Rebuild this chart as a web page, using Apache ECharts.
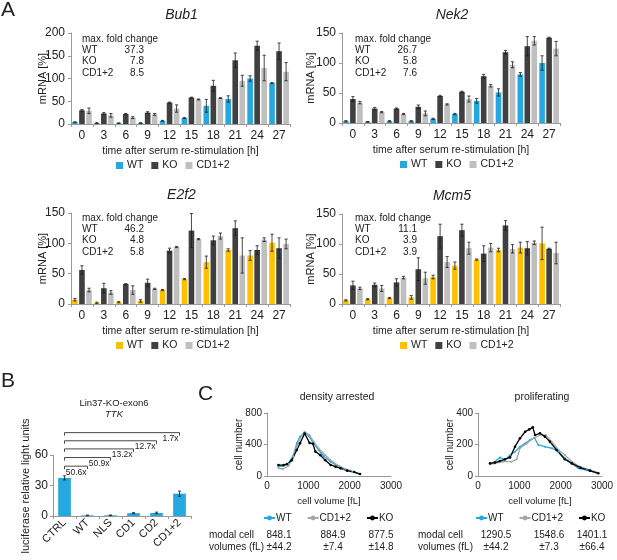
<!DOCTYPE html>
<html>
<head>
<meta charset="utf-8">
<script src="https://cdn.jsdelivr.net/npm/echarts@6/dist/echarts.min.js"></script>
<style>
html, body { margin: 0; padding: 0; background: #fff; overflow: hidden; }
#wrap { position: relative; width: 617px; height: 560px; }
.layer { position: absolute; left: 0; top: 0; width: 617px; height: 560px; }
</style>
</head>
<body>
<div id="wrap">
  <div class="layer" id="bub1"></div>
  <div class="layer" id="nek2"></div>
  <div class="layer" id="e2f2"></div>
  <div class="layer" id="mcm5"></div>
  <div class="layer" id="ttk"></div>
  <div class="layer" id="arrested"></div>
  <div class="layer" id="prolif"></div>
</div>
<script>
// ---- data ----
var hours = ["0", "3", "6", "9", "12", "15", "18", "21", "24", "27"];
var groups = ["WT", "KO", "CD1+2"];

var bub1WT = [4, 2, 2, 2, 7, 13, 40, 55, 100, 90];
var bub1KO = [30, 23, 22, 25, 47, 58, 84, 140, 172, 160];
var bub1CD = [29, 19, 14, 21, 34, 54, 57, 95, 123, 115];
var bub1WTErr = [1, 1, 0.5, 1, 1, 1, 14, 7, 6, 1];
var bub1KOErr = [2, 2, 1, 2, 1, 1, 12, 16, 10, 18];
var bub1CDErr = [6, 4, 2, 2, 8, 1, 1, 12, 28, 20];
var bub1Fold = ["37.3", "7.8", "8.5"];

var nek2WT = [3, 2, 3, 3, 7, 15, 37, 51, 81, 100];
var nek2KO = [40, 24, 24, 27, 45, 52, 78, 118, 128, 142];
var nek2CD = [34, 18, 15, 16, 31, 40, 62, 97, 137, 124];
var nek2WTErr = [1, 0.5, 1, 1, 1, 1, 4, 6, 3, 12];
var nek2KOErr = [4, 2, 1, 3, 1, 1, 3, 3, 16, 1];
var nek2CDErr = [2, 1, 1, 4, 1, 5, 2, 5, 7, 12];
var nek2Fold = ["26.7", "5.8", "7.6"];

var e2f2WT = [7, 2, 3, 5, 23, 41, 69, 89, 80, 101];
var e2f2KO = [56, 26, 33, 35, 88, 121, 105, 125, 89, 92];
var e2f2CD = [23, 19, 23, 25, 94, 107, 112, 80, 106, 99];
var e2f2WTErr = [2, 1, 1, 2, 1, 1, 10, 2, 8, 14];
var e2f2KOErr = [7, 8, 0.5, 6, 4, 28, 7, 12, 7, 17];
var e2f2CDErr = [3, 3, 7, 1, 1, 1, 5, 29, 3, 8];
var e2f2Fold = ["46.2", "4.8", "5.8"];

var mcm5WT = [6, 8, 10, 11, 45, 64, 74, 90, 94, 101];
var mcm5KO = [31, 32, 36, 58, 113, 123, 84, 131, 93, 92];
var mcm5CD = [26, 26, 44, 43, 70, 93, 94, 92, 102, 85];
var mcm5WTErr = [1, 1, 1, 3, 3, 6, 1, 3, 9, 27];
var mcm5KOErr = [7, 3, 6, 19, 20, 10, 13, 8, 11, 1];
var mcm5CDErr = [2, 5, 2, 10, 9, 10, 7, 7, 3, 18];
var mcm5Fold = ["11.1", "3.9", "3.9"];

var ttkCats = ["CTRL", "WT", "NLS", "CD1", "CD2", "CD1+2"];
var ttkValues = [37.5, 0.6, 0.7, 2.8, 3.0, 22];
var ttkErr = [2, 0.3, 0.3, 0.5, 0.8, 2.5];
var ttkBracketTo = [1, 2, 3, 4, 5];
var ttkBracketLevel = [49, 57.5, 66, 74, 82];
var ttkBracketText = ["50.6x", "50.9x", "13.2x", "12.7x", "1.7x"];

var daWT = [[276, 118], [400, 127], [520, 160], [640, 266], [720, 415], [800, 500], [910, 553], [1010, 507], [1130, 414], [1250, 330], [1370, 254], [1540, 182], [1700, 127], [1860, 89], [2065, 55], [2250, 25]];
var daCD = [[276, 97], [380, 89], [520, 127], [640, 245], [720, 372], [800, 478], [910, 562], [1030, 520], [1130, 435], [1250, 350], [1410, 266], [1580, 182], [1740, 131], [1900, 89], [2090, 55], [2250, 25]];
var daKO = [[276, 139], [400, 139], [480, 150], [600, 200], [720, 330], [800, 415], [910, 540], [1030, 420], [1110, 410], [1170, 310], [1290, 265], [1410, 200], [1540, 140], [1660, 118], [1780, 97], [1940, 68], [2110, 50], [2250, 25]];
var daModal = ["848.1", "884.9", "877.5"];
var daModalErr = ["\u00b144.2", "\u00b17.4", "\u00b114.8"];

var prWT = [[290, 76], [410, 91], [530, 118], [650, 102], [775, 133], [895, 154], [1015, 186], [1140, 207], [1260, 229], [1365, 243], [1460, 197], [1620, 186], [1790, 176], [1950, 154], [2100, 112], [2270, 80], [2430, 49], [2630, 38], [2910, 17]];
var prCD = [[290, 74], [410, 80], [610, 91], [810, 91], [935, 106], [1015, 176], [1180, 207], [1300, 233], [1380, 243], [1500, 260], [1645, 260], [1780, 218], [1950, 165], [2100, 133], [2270, 91], [2470, 59], [2710, 38], [2910, 21]];
var prKO = [[290, 80], [410, 85], [530, 95], [650, 106], [775, 118], [895, 186], [1015, 239], [1140, 281], [1240, 296], [1325, 309], [1380, 260], [1500, 271], [1620, 250], [1740, 218], [1900, 165], [2100, 106], [2270, 80], [2470, 53], [2710, 34], [2910, 17]];
var prModal = ["1290.5", "1548.6", "1401.1"];
var prModalErr = ["\u00b144.2", "\u00b17.3", "\u00b166.4"];

// ---- styles ----
var FONT = "Liberation Sans, Arial, sans-serif";
var TXT = "#222";
var AXIS = "#9a9a9a";
var BLUE = "#25a7e0";
var YELLOW = "#ffc000";
var DARK = "#404040";
var LIGHT = "#bfbfbf";
var CAT_GAP = 0.1, BAR_GAP = 0.25;

function txt(x, y, s, size, extra) {
    var st = { text: s, fontSize: size, fontFamily: FONT, fill: TXT, align: "left", verticalAlign: "middle" };
    for (var k in extra) st[k] = extra[k];
    return { type: "text", x: x, y: y, style: st, silent: true };
}

function errorSeries(data, idx, n, catGap, barGap) {
    return {
        type: "custom",
        data: data,
        z: 5,
        clip: false,
        silent: true,
        renderItem: function(params, api) {
            var i = api.value(0), v = api.value(1), e = api.value(2);
            if (!e) return null;
            var band = api.size([1, 0])[0];
            var inner = band * (1 - catGap);
            var bw = inner / (n + (n - 1) * barGap);
            var x = api.coord([i, v])[0] - inner / 2 + idx * bw * (1 + barGap) + bw / 2;
            var y1 = api.coord([i, v + e])[1];
            var y2 = api.coord([i, Math.max(v - e, 0)])[1];
            var st = { stroke: "#1a1a1a", lineWidth: 0.8 };
            return {
                type: "group",
                children: [
                    { type: "line", shape: { x1: x, y1: y1, x2: x, y2: y2 }, style: st },
                    { type: "line", shape: { x1: x - 1.6, y1: y1, x2: x + 1.6, y2: y1 }, style: st },
                    { type: "line", shape: { x1: x - 1.6, y1: y2, x2: x + 1.6, y2: y2 }, style: st }
                ]
            };
        }
    };
}

function barPanel(id, o) {
    var c = echarts.init(document.getElementById(id));
    var colors = [o.wtColor, DARK, LIGHT];
    var series = [];
    o.values.forEach(function(vals, k) {
        series.push({
            name: groups[k], type: "bar", data: vals,
            barGap: "25%", barCategoryGap: "10%",
            itemStyle: { color: colors[k] }
        });
    });
    o.values.forEach(function(vals, k) {
        series.push(errorSeries(vals.map(function(v, i) { return [i, v, o.errors[k][i]]; }), k, 3, CAT_GAP, BAR_GAP));
    });
    var g = o.grid;
    var a = o.note;
    var graphics = [
        txt(g.left + g.width / 2 + 1, g.top - 18, o.title, 14, { align: "center", fontStyle: "italic" }),
        txt(a.x, a.y, "max. fold change", 10)
    ];
    groups.forEach(function(n, k) {
        graphics.push(txt(a.x, a.y + 11.3 * (k + 1), n, 10));
        graphics.push(txt(a.x + 62, a.y + 11.3 * (k + 1), o.fold[k], 10, { align: "right" }));
    });
    if (o.letter) graphics.push(txt(1, 10, o.letter, 21));
    c.setOption({
        animation: false,
        grid: { left: g.left, top: g.top, width: g.width, height: g.height },
        xAxis: {
            type: "category", data: hours,
            name: "time after serum re-stimulation [h]", nameLocation: "middle", nameGap: 22,
            nameMoveOverlap: false,
            nameTextStyle: { fontSize: 10.5, color: TXT, fontFamily: FONT },
            axisLine: { lineStyle: { color: AXIS } },
            axisTick: { show: true, length: 3, lineStyle: { color: AXIS } },
            axisLabel: { fontSize: 12, color: TXT, fontFamily: FONT, margin: 6 }
        },
        yAxis: {
            type: "value", min: 0, max: o.yMax, interval: 50,
            name: "mRNA [%]", nameLocation: "middle", nameGap: o.nameGap,
            nameMoveOverlap: false,
            nameTextStyle: { fontSize: 11, color: TXT, fontFamily: FONT },
            axisLine: { show: true, lineStyle: { color: AXIS } },
            axisTick: { show: true, length: 3, lineStyle: { color: AXIS } },
            splitLine: { show: false },
            axisLabel: { fontSize: 12, color: TXT, fontFamily: FONT, margin: 6 }
        },
        legend: {
            data: groups, left: o.legendLeft, top: g.top + g.height + 36, padding: 0,
            icon: "rect", itemWidth: 7, itemHeight: 7, itemGap: 8,
            textStyle: { fontSize: 10.5, color: TXT, fontFamily: FONT, padding: [0, 0, 0, -1] }
        },
        graphic: graphics,
        series: series
    });
}

barPanel("bub1", {
    letter: "A", title: "Bub1", yMax: 200, wtColor: BLUE, nameGap: 23,
    grid: { left: 71, top: 33, width: 219, height: 91 },
    note: { x: 82, y: 39 }, fold: bub1Fold, legendLeft: 116,
    values: [bub1WT, bub1KO, bub1CD], errors: [bub1WTErr, bub1KOErr, bub1CDErr]
});
barPanel("nek2", {
    title: "Nek2", yMax: 150, wtColor: BLUE, nameGap: 26,
    grid: { left: 342, top: 33, width: 218, height: 90 },
    note: { x: 355, y: 39 }, fold: nek2Fold, legendLeft: 400,
    values: [nek2WT, nek2KO, nek2CD], errors: [nek2WTErr, nek2KOErr, nek2CDErr]
});
barPanel("e2f2", {
    title: "E2f2", yMax: 150, wtColor: YELLOW, nameGap: 23,
    grid: { left: 71, top: 213, width: 219, height: 91 },
    note: { x: 82, y: 218 }, fold: e2f2Fold, legendLeft: 116,
    values: [e2f2WT, e2f2KO, e2f2CD], errors: [e2f2WTErr, e2f2KOErr, e2f2CDErr]
});
barPanel("mcm5", {
    title: "Mcm5", yMax: 150, wtColor: YELLOW, nameGap: 26,
    grid: { left: 342, top: 214, width: 218, height: 90 },
    note: { x: 355, y: 218 }, fold: mcm5Fold, legendLeft: 400,
    values: [mcm5WT, mcm5KO, mcm5CD], errors: [mcm5WTErr, mcm5KOErr, mcm5CDErr]
});

// ---- panel B ----
(function() {
    var c = echarts.init(document.getElementById("ttk"));
    var brackets = ttkBracketTo.map(function(t, i) { return [t, ttkBracketLevel[i], i]; });
    var yName = txt(26, 486, "luciferase relative light units", 11, { align: "center" });
    yName.rotation = Math.PI / 2;
    c.setOption({
        animation: false,
        grid: { left: 53, top: 455, width: 138, height: 61 },
        xAxis: {
            type: "category", data: ttkCats,
            axisLine: { lineStyle: { color: AXIS } },
            axisTick: { show: true, length: 3, lineStyle: { color: AXIS } },
            axisLabel: { fontSize: 11, color: TXT, fontFamily: FONT, rotate: 45, margin: 5 }
        },
        yAxis: {
            type: "value", min: 0, max: 60, interval: 30,
            axisLine: { show: true, lineStyle: { color: AXIS } },
            axisTick: { show: true, length: 3, lineStyle: { color: AXIS } },
            splitLine: { show: false },
            axisLabel: { fontSize: 12, color: TXT, fontFamily: FONT, margin: 5 }
        },
        graphic: [
            txt(1, 381, "B", 21),
            txt(114, 403, "Lin37-KO-exon6", 9.5, { align: "center" }),
            txt(114, 414, "TTK", 9.5, { align: "center", fontStyle: "italic" }),
            yName
        ],
        series: [
            {
                type: "bar", data: ttkValues, barCategoryGap: "45%",
                itemStyle: { color: BLUE }
            },
            errorSeries(ttkValues.map(function(v, i) { return [i, v, ttkErr[i]]; }), 0, 1, 0.45, 0),
            {
                type: "custom", data: brackets, clip: false, silent: true,
                renderItem: function(params, api) {
                    var to = api.value(0), lvl = api.value(1);
                    var p0 = api.coord([0, lvl]), p1 = api.coord([to, lvl]);
                    var y = p0[1];
                    return {
                        type: "group",
                        children: [
                            {
                                type: "polyline",
                                shape: { points: [[p0[0], y + 3], [p0[0], y], [p1[0], y], [p1[0], y + 3]] },
                                style: { stroke: "#333", lineWidth: 0.9, fill: null }
                            },
                            {
                                type: "text", x: p1[0] - 1, y: y + 1.5,
                                style: {
                                    text: ttkBracketText[api.value(2)], fontSize: 8.5, fontFamily: FONT,
                                    fill: TXT, align: "right", verticalAlign: "top"
                                }
                            }
                        ]
                    };
                }
            }
        ]
    });
})();

// ---- panel C ----
function linePanel(id, o) {
    var c = echarts.init(document.getElementById(id));
    var names = ["WT", "CD1+2", "KO"];
    var colors = [BLUE, "#a6a6a6", "#000"];
    var sets = [o.wt, o.cd, o.ko];
    var g = o.grid;
    var graphics = [
        txt(o.titleX, 397, o.title, 10.5, { align: "center" }),
        txt(o.textX, 535, "modal cell", 10),
        txt(o.textX, 547, "volumes (fL)", 10)
    ];
    o.modal.forEach(function(m, k) {
        graphics.push(txt(o.valueX[k], 535, m, 10, { align: "center" }));
        graphics.push(txt(o.valueX[k], 547, o.modalErr[k], 10, { align: "center" }));
    });
    if (o.letter) graphics.push(txt(198, 394, o.letter, 21));
    c.setOption({
        animation: false,
        grid: { left: g.left, top: g.top, width: g.width, height: g.height },
        xAxis: {
            type: "value", min: 0, max: 3000, interval: 1000,
            name: "cell volume [fL]", nameLocation: "middle", nameGap: 20,
            nameMoveOverlap: false,
            nameTextStyle: { fontSize: 9.5, color: TXT, fontFamily: FONT },
            axisLine: { lineStyle: { color: AXIS } },
            axisTick: { show: false },
            splitLine: { show: false },
            axisLabel: { fontSize: 10, color: TXT, fontFamily: FONT, margin: 5,
                formatter: function(v) { return String(v); } }
        },
        yAxis: {
            type: "value", min: 0, max: o.yMax, interval: o.yMax / 2,
            name: "cell number", nameLocation: "middle", nameGap: 23,
            nameMoveOverlap: false,
            nameTextStyle: { fontSize: 10, color: TXT, fontFamily: FONT },
            axisLine: { show: true, lineStyle: { color: AXIS } },
            axisTick: { show: true, length: 3, lineStyle: { color: AXIS } },
            splitLine: { show: false },
            axisLabel: { fontSize: 10, color: TXT, fontFamily: FONT, margin: 5 }
        },
        legend: {
            data: names, left: o.legendLeft, top: 513, padding: 0,
            itemWidth: 11, itemHeight: 6, itemGap: 15,
            textStyle: { fontSize: 10, color: TXT, fontFamily: FONT, padding: [0, 0, 0, -4] }
        },
        graphic: graphics,
        series: sets.map(function(d, k) {
            return {
                name: names[k], type: "line", data: d,
                symbol: "circle", symbolSize: k === 2 ? 2.6 : 2,
                lineStyle: { width: 1.3, color: colors[k] },
                itemStyle: { color: colors[k] }
            };
        })
    });
}

linePanel("arrested", {
    letter: "C", title: "density arrested", titleX: 337, yMax: 800,
    grid: { left: 267, top: 413, width: 124, height: 63 },
    wt: daWT, cd: daCD, ko: daKO, legendLeft: 263,
    textX: 209, valueX: [279, 333, 381], modal: daModal, modalErr: daModalErr
});
linePanel("prolif", {
    title: "proliferating", titleX: 542, yMax: 400,
    grid: { left: 478, top: 413, width: 124, height: 63 },
    wt: prWT, cd: prCD, ko: prKO, legendLeft: 475,
    textX: 418, valueX: [496, 549, 592], modal: prModal, modalErr: prModalErr
});
</script>
</body>
</html>
